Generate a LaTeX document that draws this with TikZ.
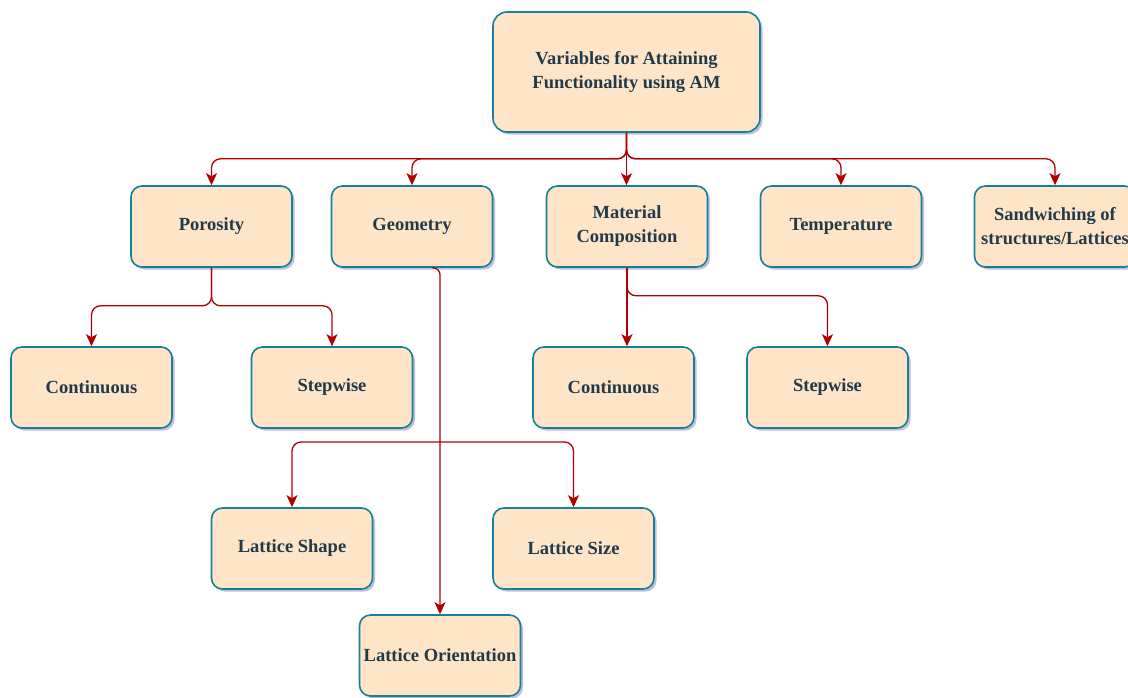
\documentclass[tikz,border=0pt]{standalone}
\usepackage{fontspec}
\setmainfont{Liberation Serif}
\usetikzlibrary{arrows.meta,shadows,calc}
\definecolor{boxfill}{HTML}{FFE5C8}
\definecolor{boxdraw}{HTML}{16809A}
\definecolor{txt}{HTML}{22394A}
\definecolor{conncol}{HTML}{B20000}
\begin{document}
\begin{tikzpicture}[x=1pt,y=-1pt,
  box/.style={draw=boxdraw, line width=1.6pt, fill=boxfill, rounded corners=11pt,
    minimum width=161pt, minimum height=81pt, align=center, text=txt,
    font=\fontsize{18.5}{24}\selectfont\bfseries, inner sep=1pt,
    drop shadow={shadow xshift=2.5pt, shadow yshift=-2.5pt, opacity=0.25, fill=black!60!blue}},
  conn/.style={draw=conncol, line width=1.3pt, rounded corners=9pt,
    -{Stealth[length=12pt,width=11pt,inset=3pt]}}]
\useasboundingbox (0,0) rectangle (1128,697);
\node[box, minimum width=267pt, minimum height=120pt, rounded corners=14pt] (top) at (626.5,72) {Variables for Attaining\\Functionality using AM};
\node[box] (por) at (211.5,226.5) {Porosity};
\node[box] (geo) at (412,226.5) {Geometry};
\node[box] (mat) at (627,226.5) {Material\\Composition};
\node[box] (tem) at (841,226.5) {Temperature};
\node[box] (san) at (1055,226.5) {Sandwiching of\\structures/Lattices};
\node[box] (c1) at (91.5,387.5) {Continuous};
\node[box] (s1) at (332,387.5) {Stepwise};
\node[box] (c2) at (613.5,387.5) {Continuous};
\node[box] (s2) at (827.5,387.5) {Stepwise};
\node[box] (ls) at (292,548.5) {Lattice Shape};
\node[box] (lz) at (573.5,548.5) {Lattice Size};
\node[box] (ori) at (440,655.5) {Lattice Orientation};
% top bus
\draw[conn] (top.south) -- ++(0,26) -| (por.north);
\draw[conn] (top.south) -- ++(0,26) -| (geo.north);
\draw[conn] (top.south) -- (top.south |- mat.north);
\draw[conn] (top.south) -- ++(0,26) -| (tem.north);
\draw[conn] (top.south) -- ++(0,26) -| (san.north);
% porosity
\draw[conn] (por.south) -- ++(0,38) -| (c1.north);
\draw[conn] (por.south) -- ++(0,38) -| (s1.north);
% material
\draw[conn] (mat.south) -- (mat.south |- c2.north);
\draw[conn] (mat.south) -- ++(0,28) -| (s2.north);
% geometry
\coordinate (gs) at ($(geo.south)+(20,0)$);
\draw[conn, rounded corners=7pt] (gs) -| (ori.north);
\coordinate (gj) at (ori.north |- 0,442);
\draw[conn] (gj) -| (ls.north);
\draw[conn] (gj) -| (lz.north);
\end{tikzpicture}
\end{document}
